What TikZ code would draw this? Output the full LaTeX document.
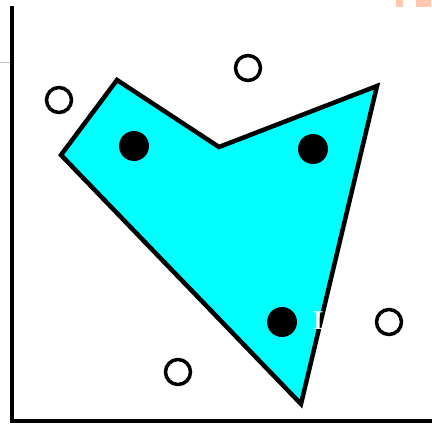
\documentclass[tikz,border=0pt]{standalone}
\definecolor{aqua}{RGB}{0,255,255}
\definecolor{pinkish}{RGB}{255,200,175}
\begin{document}
\begin{tikzpicture}[x=1pt,y=-1pt,
  axis/.style={line width=4pt},
  region/.style={draw=black,fill=aqua,line width=4.5pt,line join=miter},
  inpt/.style={circle,fill=black,minimum size=30pt,inner sep=0pt},
  outpt/.style={circle,draw=black,line width=3.5pt,fill=white,minimum size=25pt,inner sep=0pt}]
\useasboundingbox (0,0) rectangle (432,424);
\fill[white] (0,0) rectangle (432,424);
% faint artifacts
\draw[gray!50,line width=1pt] (0,62.5) -- (10,62.5);
\fill[pinkish] (396,0) rectangle (403,7);
\fill[pinkish] (416,0) rectangle (431,7);
% axes
\coordinate (top) at (12,8);
\coordinate (origin) at (12,421);
\coordinate (right) at (432,421);
\draw[axis,line cap=rect] (top) -- (origin) -- (right);
% polygon
\coordinate (p1) at (117,80);
\coordinate (p2) at (219,147);
\coordinate (p3) at (377,86);
\coordinate (p4) at (301,404);
\coordinate (p5) at (61,155);
\draw[region] (p1) -- (p2) -- (p3) -- (p4) -- (p5) -- cycle;
% points inside
\node[inpt] (a) at (134,146) {};
\node[inpt] (b) at (313,149) {};
\node[inpt] (c) at (282,322) {};
% points outside
\node[outpt] (d) at (59,100) {};
\node[outpt] (e) at (248,68) {};
\node[outpt] (f) at (389,322) {};
\node[outpt] (g) at (178,372) {};
\node[white,font=\fontsize{26}{26}\selectfont\bfseries,inner sep=0pt] (t) at (318,321) {I};
\end{tikzpicture}
\end{document}
